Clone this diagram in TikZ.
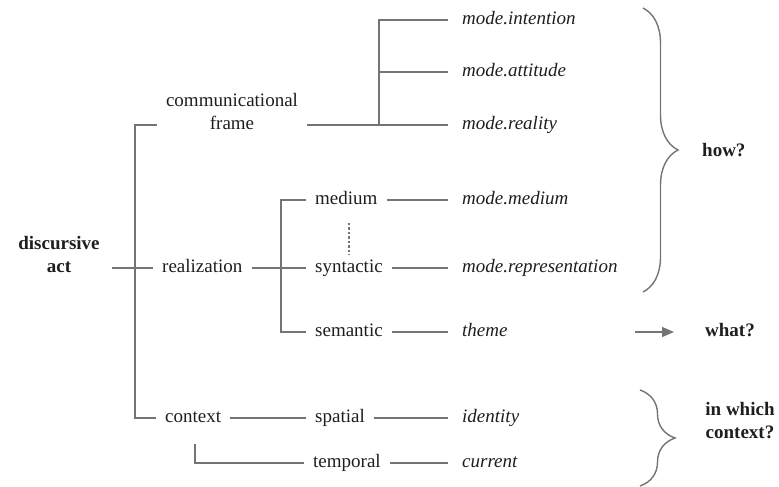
\documentclass[tikz,border=0pt]{standalone}
\usepackage{fontspec}
\setmainfont{Liberation Serif}
\usetikzlibrary{decorations.pathreplacing,arrows.meta,calc}
\definecolor{ln}{HTML}{747474}
\definecolor{tx}{HTML}{1E1E1E}
\begin{document}
\begin{tikzpicture}[x=1pt,y=-1pt,
  lbl/.style={inner xsep=9pt, inner ysep=0pt, text height=13pt, text depth=4.4pt,
    font=\fontsize{19}{23}\selectfont, text=tx},
  lft/.style={lbl, anchor=west},
  val/.style={lbl, anchor=west, inner xsep=14pt, font=\fontsize{19}{23}\selectfont\itshape},
  bld/.style={lbl, font=\fontsize{19}{23}\selectfont\bfseries, align=center},
  conn/.style={draw=ln, line width=1.4pt},
  dsh/.style={draw=ln, line width=1.1pt, dash pattern=on 2.5pt off 2pt},
  brc/.style={draw=ln, line width=1.4pt, decorate, decoration={brace, amplitude=35pt}},
  arr/.style={conn, -{Triangle[length=12pt,width=10pt]}}
]
\useasboundingbox (0,0) rectangle (779,487);

% left and middle columns
\node[bld, inner xsep=12pt] (da) at (59,268) {discursive\\act};
\node[lbl, align=center] (comm) at (232,125) {communicational\\frame};
\node[lft] (real) at (153,268) {realization};
\node[lft] (ctx) at (156,418) {context};
\node[lft] (med) at (306,200) {medium};
\node[lft] (syn) at (306,268) {syntactic};
\node[lft] (sem) at (306,332) {semantic};
\node[lft] (spa) at (306,418) {spatial};
\node[lft] (tem) at (304,463) {temporal};

% right column
\node[val] (mi) at (448,20) {mode.intention};
\node[val] (ma) at (448,72) {mode.attitude};
\node[val] (mr) at (448,125) {mode.reality};
\node[val] (mm) at (448,200) {mode.medium};
\node[val] (mrep) at (448,268) {mode.representation};
\node[val] (th) at (448,332) {theme};
\node[val] (id) at (448,418) {identity};
\node[val] (cur) at (448,463) {current};

% questions
\node[bld, anchor=west, inner xsep=0pt] (how) at (702,152) {how?};
\node[bld, anchor=west, inner xsep=0pt] (what) at (705,332) {what?};
\node[bld, inner xsep=0pt] (which) at (740,434.5) {in which\\context?};

% branch points
\coordinate (t1) at (135,0);
\coordinate (t2) at (379,0);
\coordinate (t3) at (281,0);

% trunk
\draw[conn] (da.east) -- (real.west);
\draw[conn] (comm.west) -- (comm.west -| t1) -- (ctx.west -| t1) -- (ctx.west);

% communicational frame
\draw[conn] (comm.east) -- (mr.west);
\draw[conn] (mi.west) -- (mi.west -| t2) -- (mr.west -| t2);
\draw[conn] (ma.west) -- (ma.west -| t2);

% realization
\draw[conn] (real.east) -- (syn.west);
\draw[conn] (med.west) -- (med.west -| t3) -- (sem.west -| t3) -- (sem.west);
\draw[dsh] ($(syn.north |- med.south)+(0,14)$) -- ($(syn.north)+(0,-4)$);

% context
\draw[conn] (ctx.east) -- (spa.west);
\draw[conn] ($(ctx.south)+(2,17)$) |- (tem.west);

% values
\draw[conn] (med.east) -- (mm.west);
\draw[conn] (syn.east) -- (mrep.west);
\draw[conn] (sem.east) -- (th.west);
\draw[conn] (spa.east) -- (id.west);
\draw[conn] (tem.east) -- (cur.west);

% braces and arrow
\draw[brc] (643,8) -- (643,292);
\draw[brc] (640,390) -- (640,486);
\coordinate (a0) at (635,332);
\coordinate (a1) at (674,332);
\draw[arr] (a0) -- (a1);
\end{tikzpicture}
\end{document}
